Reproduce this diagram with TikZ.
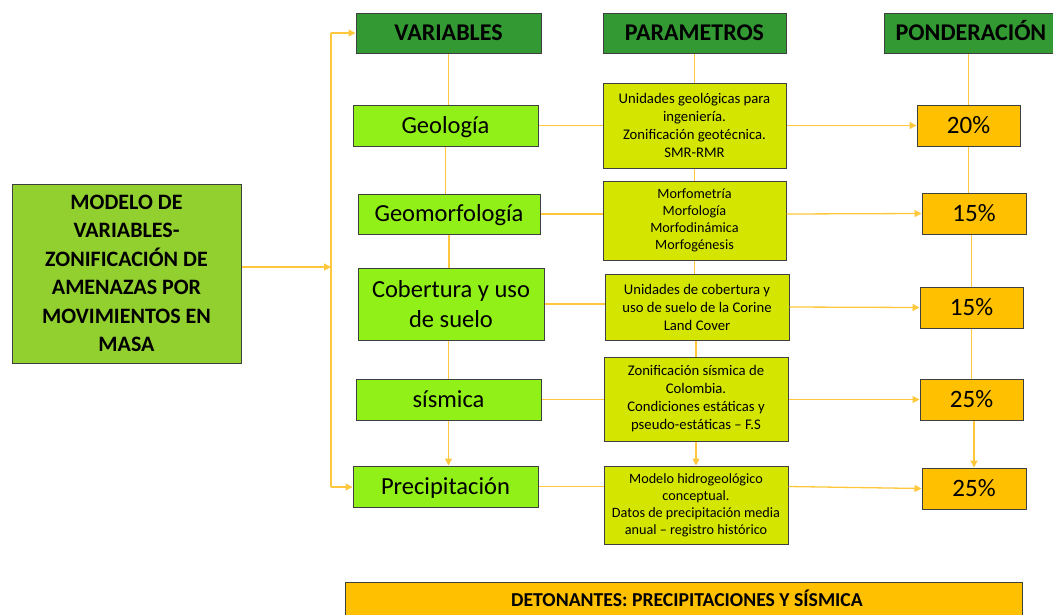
\documentclass[tikz,border=0pt]{standalone}
\usepackage{fontspec}
\setmainfont{Carlito}
\usetikzlibrary{arrows.meta,calc}
\definecolor{mainG}{HTML}{92D030}
\definecolor{headG}{HTML}{339A33}
\definecolor{varG}{HTML}{90F018}
\definecolor{parY}{HTML}{D4E600}
\definecolor{ponO}{HTML}{FFC000}
\definecolor{lineO}{HTML}{FFC83C}
\definecolor{bord}{HTML}{3F3F3F}
\tikzset{
  box/.style={draw=bord, line width=1pt, inner sep=0pt, align=center, text=black},
  mainbox/.style={box, fill=mainG, font=\bfseries\fontsize{22}{28.5}\selectfont},
  headbox/.style={box, text height=21.5pt, text depth=6pt, fill=headG, font=\bfseries\fontsize{24}{28}\selectfont},
  varbox/.style={box, fill=varG, font=\fontsize{24.5}{30}\selectfont},
  varone/.style={varbox, text height=21.8pt, text depth=6pt},
  parbox/.style={box, fill=parY, font=\fontsize{14.7}{18}\selectfont},
  ponbox/.style={box, text height=22.1pt, text depth=6pt, fill=ponO, font=\fontsize{25}{28}\selectfont},
  detbox/.style={box, fill=ponO},
  conn/.style={draw=lineO, line width=1.3pt},
  arr/.style={conn, -{Triangle[length=7pt,width=7pt]}}
}
\begin{document}
\begin{tikzpicture}[x=1pt,y=-1pt]
\useasboundingbox (0,0) rectangle (1053,614);
% main
\node[mainbox, minimum width=229pt, minimum height=179pt] (main) at (126.5,273.5)
  {MODELO DE\\VARIABLES-\\ZONIFICACIÓN DE\\AMENAZAS POR\\MOVIMIENTOS EN\\MASA};
% headers
\node[headbox, minimum width=185pt, minimum height=40pt] (hv) at (448.5,33) {VARIABLES};
\node[headbox, minimum width=183pt, minimum height=40pt] (hp) at (694.5,33) {PARAMETROS};
\node[headbox, minimum width=174pt, minimum height=40pt] (hd) at (971,33) {PONDERACIÓN};
% variables
\node[varone, minimum width=185pt, minimum height=41pt] (geo) at (445.5,125.5) {Geología};
\node[varone, minimum width=182pt, minimum height=40pt] (gmf) at (449,214) {Geomorfología};
\node[varbox, minimum width=186pt, minimum height=72pt] (cob) at (451,304) {Cobertura y uso\\de suelo};
\node[varone, minimum width=185pt, minimum height=41pt] (sis) at (448.5,399.5) {sísmica};
\node[varone, minimum width=185pt, minimum height=41pt] (pre) at (445.5,486.5) {Precipitación};
% parameters
\node[parbox, minimum width=183pt, minimum height=85pt] (p1) at (694.5,125.5)
  {Unidades geológicas para\\ingeniería.\\Zonificación geotécnica.\\SMR-RMR};
\node[parbox, minimum width=183pt, minimum height=79pt, font=\fontsize{14.2}{17}\selectfont] (p2) at (694.5,220.5)
  {Morfometría\\Morfología\\Morfodinámica\\Morfogénesis};
\node[parbox, minimum width=184pt, minimum height=66pt] (p3) at (697,307)
  {Unidades de cobertura y\\uso de suelo de la Corine\\Land Cover};
\node[parbox, minimum width=184pt, minimum height=84pt] (p4) at (696,399)
  {Zonificación sísmica de\\Colombia.\\Condiciones estáticas y\\pseudo-estáticas – F.S};
\node[parbox, minimum width=184pt, minimum height=78pt, font=\fontsize{14.2}{17}\selectfont] (p5) at (696,505)
  {Modelo hidrogeológico\\conceptual.\\Datos de precipitación media\\anual – registro histórico};
% ponderacion
\node[ponbox, minimum width=103pt, minimum height=41pt] (d1) at (968.5,125.5) {20\%};
\node[ponbox, minimum width=104pt, minimum height=41pt] (d2) at (974,213.5) {15\%};
\node[ponbox, minimum width=103pt, minimum height=41pt] (d3) at (971.5,307.5) {15\%};
\node[ponbox, minimum width=103pt, minimum height=41pt] (d4) at (971.5,399.5) {25\%};
\node[ponbox, minimum width=104pt, minimum height=41pt] (d5) at (974,488.5) {25\%};
% detonantes
\node[detbox, minimum width=677pt, minimum height=38pt] (det) at (683.5,601) {};
\node[font=\bfseries\fontsize{19.7}{22}\selectfont, text height=18.7pt, text depth=6pt, inner sep=0pt] (dett) at (687,600)
  {DETONANTES: PRECIPITACIONES Y SÍSMICA};
% trunk
\coordinate (tm) at (331,267);
\coordinate (ttop) at (331,33);
\coordinate (tbot) at (331,487);
\draw[arr] (main.east |- tm) -- (tm);
\draw[conn] (ttop) -- (tbot);
\draw[arr] (ttop) -- (hv.west);
\draw[arr] (tbot) -- (pre.west |- tbot);
% variable column
\draw[conn] (hv.south) -- (hv.south |- geo.north);
\draw[conn] (geo.south) -- (geo.south |- gmf.north);
\draw[conn] (gmf.south) -- (gmf.south |- cob.north);
\draw[conn] (cob.south -| sis.north) -- (sis.north);
\draw[arr] (sis.south) -- (sis.south |- pre.north);
% parameter column
\draw[conn] (hp.south) -- (hp.south |- p1.north);
\draw[conn] (p1.south) -- (p1.south |- p2.north);
\draw[conn] (p2.south) -- (p2.south |- p3.north);
\draw[conn] (p3.south -| p4.north) -- (p4.north);
\draw[arr] (p4.south) -- (p4.south |- p5.north);
% ponderacion column
\draw[conn] (hd.south -| d1.north) -- (d1.north);
\draw[conn] (d1.south) -- (d1.south |- d2.north);
\draw[conn] (d2.south -| d3.north) -- (d3.north);
\draw[conn] (d3.south) -- (d3.south |- d4.north);
\draw[arr] (d4.south -| d5.north) -- (d5.north);
% rows
\draw[conn] (geo.east) -- (geo.east -| p1.west);
\draw[arr] (p1.east) -- (d1.west);
\draw[conn] (gmf.east) -- (gmf.east -| p2.west);
\draw[arr] (gmf.east -| p2.east) -- (d2.west);
\draw[conn] (cob.east) -- (cob.east -| p3.west);
\draw[arr] (p3.east) -- (d3.west);
\draw[conn] (sis.east) -- (sis.east -| p4.west);
\draw[arr] (sis.east -| p4.east) -- (d4.west);
\draw[conn] (pre.east) -- (pre.east -| p5.west);
\draw[arr] (pre.east -| p5.east) -- (d5.west);
\end{tikzpicture}
\end{document}
